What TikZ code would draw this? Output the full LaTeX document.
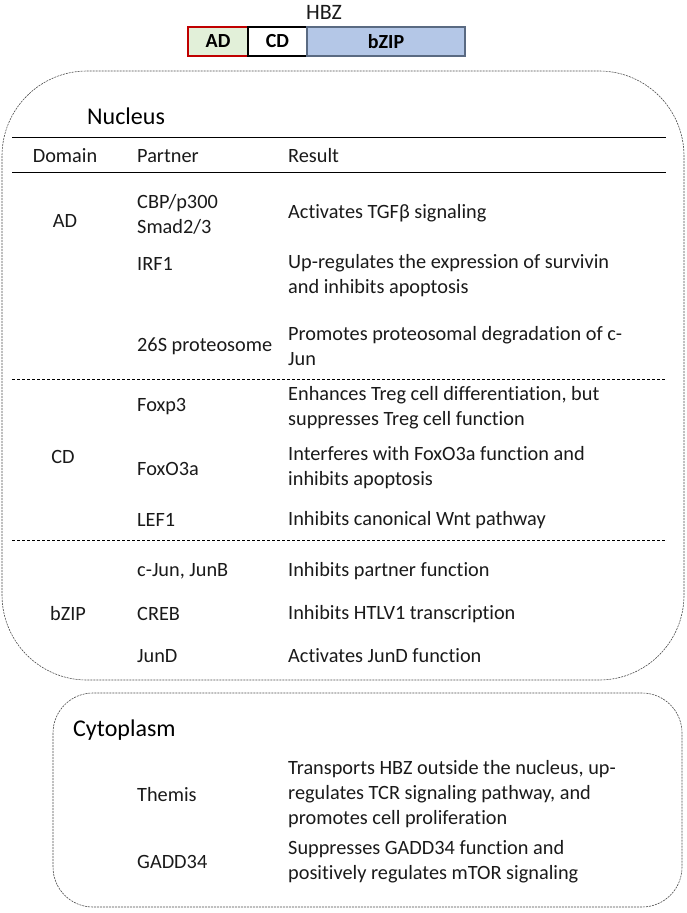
\documentclass[tikz,border=0pt]{standalone}
\usepackage{fontspec}
\setmainfont{Carlito}[Ligatures=NoCommon]
\definecolor{adfill}{HTML}{E2F0D9}
\definecolor{adline}{HTML}{C00000}
\definecolor{bzfill}{HTML}{B4C7E7}
\definecolor{bzline}{HTML}{5A6A82}
\definecolor{txtc}{HTML}{1A1A1A}
\begin{document}
\begin{tikzpicture}[x=1pt,y=-1pt,
  txt/.style={font=\fontsize{20.3}{25}\selectfont, inner sep=0pt, align=left, text=txtc},
  dom/.style={txt, anchor=center},
  part/.style={txt, anchor=west},
  res/.style={txt, anchor=west},
  ttl/.style={font=\fontsize{24}{26}\selectfont, inner sep=0pt, anchor=west, text=black},
  seg/.style={line width=1.2pt, minimum height=29pt, inner sep=0pt, font=\fontsize{20}{22}\selectfont\bfseries},
  cell/.style={draw=gray!60!black, line width=0.6pt, dash pattern=on 2pt off 1pt, rounded corners=85pt},
  cellb/.style={draw=gray!60!black, line width=0.6pt, dash pattern=on 2pt off 1pt, rounded corners=40pt},
  rule/.style={line width=1pt, black},
  sep/.style={line width=0.8pt, black, dash pattern=on 3pt off 2pt}]
\useasboundingbox (0,0) rectangle (686,913);
% HBZ domain bar
\node[font=\fontsize{22}{24}\selectfont, inner sep=0pt, text=txtc] (hbz) at (324,12) {HBZ};
\node[seg, draw=adline, fill=adfill, minimum width=60pt] (ad) at (218,41.5) {AD};
\node[seg, draw=black, fill=white, minimum width=59pt] (cd) at (277.5,41.5) {CD};
\node[seg, draw=bzline, fill=bzfill, minimum width=158pt] (bzip) at (386,41.5) {bZIP};
% nucleus
\draw[cell] (2,71) rectangle (684,680);
\node[ttl] (nuc) at (87,116) {Nucleus};
\coordinate (r1a) at (12,137); \coordinate (r1b) at (666,137);
\coordinate (r2a) at (12,172); \coordinate (r2b) at (666,172);
\draw[rule] (r1a) -- (r1b);
\draw[rule] (r2a) -- (r2b);
\node[dom] (hdom) at (65,156) {Domain};
\node[part] (hpart) at (137,156) {Partner};
\node[res] (hres) at (288,156) {Result};
% AD rows
\node[dom] (dAD) at (65,221) {AD};
\node[part] (p1) at (137,214) {CBP/p300\\Smad2/3};
\node[res] (r1) at (288,213) {Activates TGFβ signaling};
\node[part] (p2) at (137,264) {IRF1};
\node[res] (r2) at (288,276) {Up-regulates the expression of survivin\\and inhibits apoptosis};
\node[part] (p3) at (137,346) {26S proteosome};
\node[res] (r3) at (288,346) {Promotes proteosomal degradation of c-\\Jun};
\coordinate (s1a) at (12,379); \coordinate (s1b) at (666,379);
\draw[sep] (s1a) -- (s1b);
% CD rows
\node[dom] (dCD) at (63,457) {CD};
\node[part] (p4) at (137,407) {Foxp3};
\node[res] (r4) at (288,408) {Enhances Treg cell differentiation, but\\suppresses Treg cell function};
\node[part] (p5) at (137,469) {FoxO3a};
\node[res] (r5) at (288,468) {Interferes with FoxO3a function and\\inhibits apoptosis};
\node[part] (p6) at (137,520) {LEF1};
\node[res] (r6) at (288,520) {Inhibits canonical Wnt pathway};
\coordinate (s2a) at (12,540); \coordinate (s2b) at (666,540);
\draw[sep] (s2a) -- (s2b);
% bZIP rows
\node[dom] (dBZ) at (68,614) {bZIP};
\node[part] (p7) at (137,571) {c-Jun, JunB};
\node[res] (r7) at (288,571) {Inhibits partner function};
\node[part] (p8) at (137,614) {CREB};
\node[res] (r8) at (288,614) {Inhibits HTLV1 transcription};
\node[part] (p9) at (137,656) {JunD};
\node[res] (r9) at (288,656) {Activates JunD function};
% cytoplasm
\draw[cellb] (53,693) rectangle (682,907);
\node[ttl] (cyto) at (73,730) {Cytoplasm};
\node[part] (p10) at (137,795) {Themis};
\node[res] (r10) at (288,794) {Transports HBZ outside the nucleus, up-\\regulates TCR signaling pathway, and\\promotes cell proliferation};
\node[part] (p11) at (137,862) {GADD34};
\node[res] (r11) at (288,862) {Suppresses GADD34 function and\\positively regulates mTOR signaling};
\end{tikzpicture}
\end{document}
